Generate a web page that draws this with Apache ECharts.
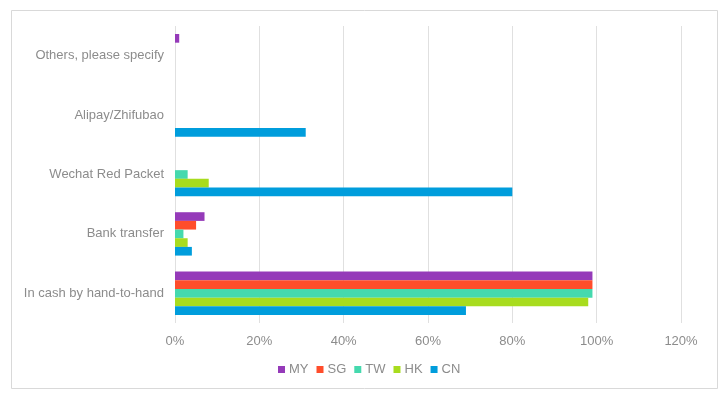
<!DOCTYPE html>
<html>
<head>
<meta charset="utf-8">
<script src="https://cdn.jsdelivr.net/npm/echarts@6/dist/echarts.min.js"></script>
<style>
  html, body { margin: 0; padding: 0; background: #fff; }
  #chart { width: 721px; height: 396px; }
</style>
</head>
<body>
<div id="chart"></div>
<script>
// categories, bottom to top
const categories = ['In cash by hand-to-hand', 'Bank transfer', 'Wechat Red Packet', 'Alipay/Zhifubao', 'Others, please specify'];
const MY = [99, 7, 0, 0, 1];
const SG = [99, 5, 0, 0, 0];
const TW = [99, 2, 3, 0, 0];
const HK = [98, 3, 8, 0, 0];
const CN = [69, 4, 80, 31, 0];
const xTicks = [0, 20, 40, 60, 80, 100, 120];

const seriesList = [
  { name: 'MY', data: MY, color: '#953AB9' },
  { name: 'SG', data: SG, color: '#FF4D2B' },
  { name: 'TW', data: TW, color: '#45D9AE' },
  { name: 'HK', data: HK, color: '#A8DC1E' },
  { name: 'CN', data: CN, color: '#009DDC' }
];

const chart = echarts.init(document.getElementById('chart'));
const labelFont = { color: '#8c8c8c', fontSize: 13, fontFamily: 'Liberation Sans, Arial, sans-serif' };

chart.setOption({
  animation: false,
  backgroundColor: '#fff',
  graphic: [{
    type: 'rect',
    shape: { x: 11.5, y: 10.5, width: 706, height: 378 },
    style: { fill: 'none', stroke: '#d9d9d9', lineWidth: 1 },
    silent: true
  }],
  grid: { left: 175, right: 40, top: 26, bottom: 73 },
  legend: {
    top: 358,
    left: 273,
    icon: 'rect',
    itemWidth: 7,
    itemHeight: 7,
    itemGap: 8,
    textStyle: { ...labelFont, padding: [0, 0, 0, -1] },
    data: seriesList.map(s => s.name)
  },
  xAxis: {
    type: 'value',
    min: xTicks[0],
    max: xTicks[xTicks.length - 1],
    interval: 20,
    axisLine: { show: false },
    axisTick: { show: false },
    axisLabel: { ...labelFont, formatter: '{value}%', margin: 12 },
    splitLine: { lineStyle: { color: '#e0e0e0', width: 1 } }
  },
  yAxis: {
    type: 'category',
    data: categories,
    axisLine: { show: false },
    axisTick: { show: false },
    axisLabel: { ...labelFont, margin: 11 }
  },
  series: seriesList.map(s => ({
    name: s.name,
    type: 'bar',
    data: s.data,
    barGap: '0%',
    barCategoryGap: '27%',
    itemStyle: { color: s.color }
  }))
});
</script>
</body>
</html>
